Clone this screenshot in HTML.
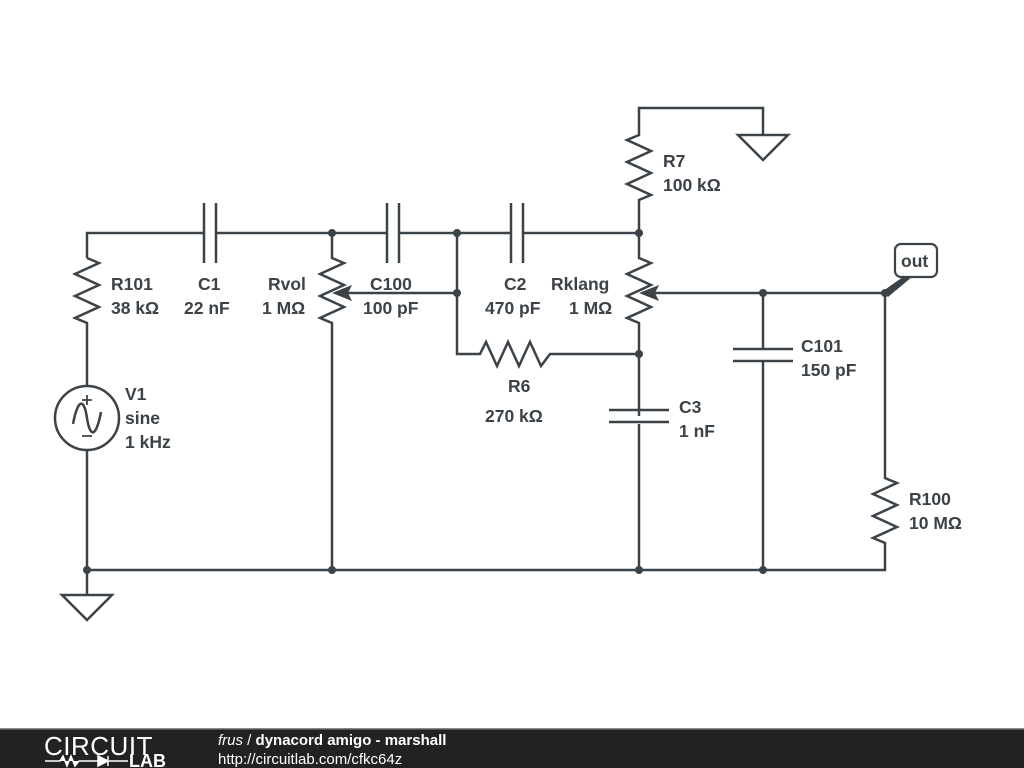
<!DOCTYPE html>
<html><head><meta charset="utf-8"><style>
html,body{margin:0;padding:0;background:#fff;width:1024px;height:768px;overflow:hidden}
text{font-family:"Liberation Sans","DejaVu Sans",sans-serif;font-weight:bold;font-size:17.5px;fill:#3b4248}
</style></head><body>
<svg width="1024" height="768" viewBox="0 0 1024 768" xmlns="http://www.w3.org/2000/svg">
<g stroke="#3b4248" stroke-width="2.5" fill="none" stroke-linejoin="miter">
<path d="M87 258 V233 H204 M216 233 H387 M399 233 H511 M523 233 H639"/>
<path d="M204 203 V263 M216 203 V263 M387 203 V263 M399 203 V263 M511 203 V263 M523 203 V263"/>
<path d="M87 258 L99 263 L75 274 L99 285 L75 296 L99 307 L75 318 L87 323 V386"/>
<circle cx="87" cy="418" r="32"/>
<path d="M73 424 C78 398 84 398 87 418 C90 438 96 438 101 412"/>
<path d="M87 450 V570"/>
<path d="M82 400 H92 M87 395 V405 M82 436 H92" stroke-width="1.8"/>
<path d="M87 570 V595 M62 595 H112 L87 620 Z"/>
<path d="M332 233 V258 L344 263 L320 274 L344 285 L320 296 L344 307 L320 318 L332 323 V570"/>
<path d="M457 293 H345"/>
<path d="M457 233 V354 H480 L486 342 L497 366 L508 342 L519 366 L530 342 L541 366 L550 354 H639"/>
<path d="M639 233 V200 L651 195 L627 184 L651 173 L627 162 L651 151 L627 140 L639 135 V108 H763 V135 M738 135 H788 L763 160 Z"/>
<path d="M639 233 V258 L651 263 L627 274 L651 285 L627 296 L651 307 L627 318 L639 323 V416 M639 424 V570"/>
<path d="M885 293 H652"/>
<path d="M609 410 H669 M609 422 H669"/>
<path d="M763 293 V349 M733 349 H793 M733 361 H793 M763 361 V570"/>
<path d="M885 293 V478 L897 483 L873 494 L897 505 L873 516 L897 527 L873 538 L885 543 V570 H87"/>
<rect x="895" y="244" width="42" height="33" rx="6" ry="6" stroke-width="2.2"/>
</g>
<g fill="#3b4248">
<path d="M332 293 L352 285 L348 293 L352 301 Z"/>
<path d="M639 293 L659 285 L655 293 L659 301 Z"/>
<path d="M883 291 L903 277 L912 277 L888 297 Z"/>
<circle cx="332" cy="233" r="4"/><circle cx="457" cy="233" r="4"/><circle cx="639" cy="233" r="4"/>
<circle cx="457" cy="293" r="4"/><circle cx="763" cy="293" r="4"/><circle cx="885" cy="293" r="4"/>
<circle cx="639" cy="354" r="4"/><circle cx="87" cy="570" r="4"/><circle cx="332" cy="570" r="4"/>
<circle cx="639" cy="570" r="4"/><circle cx="763" cy="570" r="4"/>
</g>
<text x="111" y="290">R101</text><text x="111" y="314">38 kΩ</text>
<text x="198" y="290">C1</text><text x="184" y="314">22 nF</text>
<text x="268" y="290">Rvol</text><text x="262" y="314">1 MΩ</text>
<text x="370" y="290">C100</text><text x="363" y="314">100 pF</text>
<text x="504" y="290">C2</text><text x="485" y="314">470 pF</text>
<text x="551" y="290">Rklang</text><text x="569" y="314">1 MΩ</text>
<text x="663" y="167">R7</text><text x="663" y="191">100 kΩ</text>
<text x="508" y="392">R6</text><text x="485" y="422">270 kΩ</text>
<text x="679" y="413">C3</text><text x="679" y="437">1 nF</text>
<text x="801" y="352">C101</text><text x="801" y="376">150 pF</text>
<text x="909" y="505">R100</text><text x="909" y="529">10 MΩ</text>
<text x="125" y="400">V1</text><text x="125" y="424">sine</text><text x="125" y="448">1 kHz</text>
<text x="901" y="267" font-size="16.5">out</text>
<rect x="0" y="729" width="1024" height="39" fill="#222"/>
<rect x="0" y="728" width="1024" height="1.5" fill="#888"/>
<text x="44" y="755" style="font-weight:normal;font-size:26px;fill:#fff;letter-spacing:0.5px">CIRCUIT</text>
<path d="M45 761 H60 L63 756 L67 766 L71 756 L75 766 L79 761 H98 M98 756 V766 L108 761 Z M108 756 V766 M108 761 H128" stroke="#fff" stroke-width="1.5" fill="#fff"/>
<text x="129" y="767" style="font-size:18px;fill:#fff">LAB</text>
<text x="218" y="745" style="font-size:15px;fill:#fff"><tspan font-style="italic" font-weight="normal">frus</tspan><tspan font-weight="normal"> / </tspan>dynacord amigo - marshall</text>
<text x="218" y="764" style="font-size:15px;font-weight:normal;fill:#fff">http://circuitlab.com/cfkc64z</text>
</svg>
</body></html>
